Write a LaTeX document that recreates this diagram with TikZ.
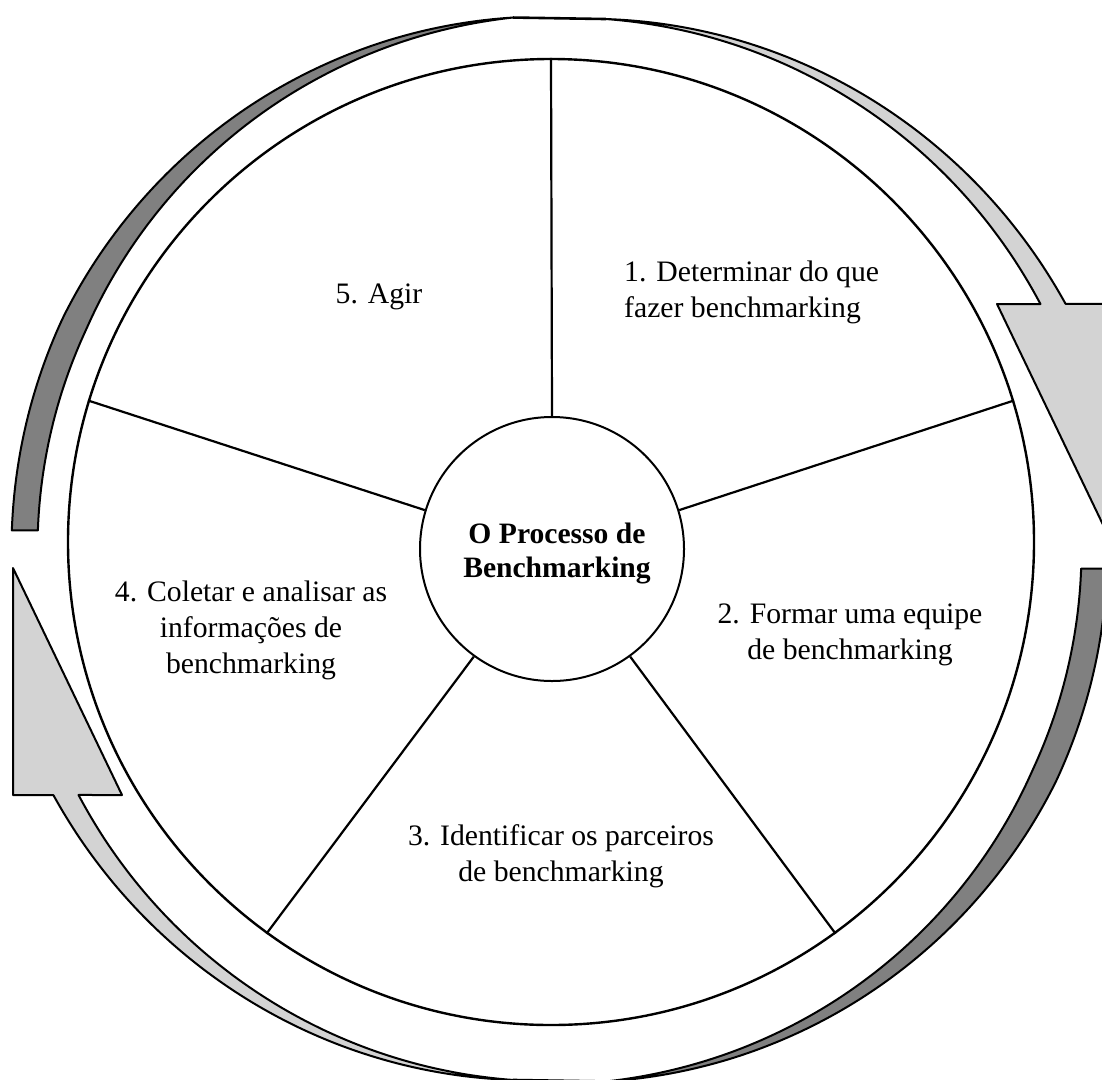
\documentclass[tikz,border=0pt]{standalone}
\usepackage{fontspec}
\setmainfont{Liberation Serif}
\definecolor{ltgray}{HTML}{D3D3D3}
\definecolor{dkgray}{HTML}{808080}
\begin{document}
\begin{tikzpicture}[x=1pt,y=-1pt,
  band/.style={draw=black, line width=2pt, line join=round},
  lbl/.style={font=\fontsize{29.7}{36}\selectfont, align=center, inner sep=0pt, anchor=base},
  spoke/.style={draw=black, line width=2.2pt},
  declare function={
    rD(\t)=534+14*min(1,(\t-95)/60);
    wD(\t)=26*min(1,(\t-95)/60);
    rL(\t)=532.5+30*(85-\t)/59;
    wL(\t)=22*(85-\t)/58;
  },
]
\useasboundingbox (0,0) rectangle (1102,1079);
\fill[white] (0,0) rectangle (1102,1079);
% outer twisted ribbon (two halves, 180-degree symmetric)
\begin{scope}
\clip (0,0) rectangle (1102,1079);
\foreach \ang in {0,180}{
 \begin{scope}[rotate around={\ang:(559.5,549.5)}]
  % dark part, tapering to nothing
  \draw[band, fill=dkgray]
    plot[domain=178:95, samples=90, smooth] ({559.5+rD(\x)*cos(\x)}, {549.5-rD(\x)*sin(\x)})
    -- plot[domain=95:177.9, samples=90, smooth] ({559.5+(rD(\x)-wD(\x))*cos(\x)}, {549.5-(rD(\x)-wD(\x))*sin(\x)})
    -- cycle;
  % edge-on part of the ribbon
  \draw[band, line width=2.6pt] ({559.5+rD(95)*cos(95)}, {549.5-rD(95)*sin(95)})
    -- ({559.5+rL(85)*cos(85)}, {549.5-rL(85)*sin(85)});
  % light part with arrowhead
  \draw[band, fill=ltgray]
    (997,304)
    -- plot[domain=27.04:85, samples=70, smooth] ({559.5+(rL(\x)-wL(\x))*cos(\x)}, {549.5-(rL(\x)-wL(\x))*sin(\x)})
    -- plot[domain=85:25.9, samples=70, smooth] ({559.5+rL(\x)*cos(\x)}, {549.5-rL(\x)*sin(\x)})
    -- (1106,304) -- (1106,531) -- cycle;
 \end{scope}
}
\end{scope}
% wheel
\node[draw, circle, line width=2.4pt, minimum size=966pt, inner sep=0pt] (rim) at (551,542) {};
\node[draw, circle, line width=2pt, minimum size=264pt, inner sep=0pt, fill=white] (hub) at (552,549) {};
\foreach \a in {90,17,-54,-126,163} \draw[spoke] (hub.\a) -- (rim.\a);
% labels (anchor = baseline of the last line)
\node[lbl, font=\bfseries\fontsize{29.6}{34}\selectfont] (hubtxt) at (557,577) {O Processo de\\Benchmarking};
\node[lbl] (t5) at (379,303) {5. Agir};
\node[lbl, align=left, anchor=base west] (t1) at (624,317) {1. Determinar do que\\fazer benchmarking};
\node[lbl] (t2) at (850,659) {2. Formar uma equipe\\de benchmarking};
\node[lbl] (t3) at (561,881) {3. Identificar os parceiros\\de benchmarking};
\node[lbl] (t4) at (251,673) {4. Coletar e analisar as\\informações de\\benchmarking};
\end{tikzpicture}
\end{document}
